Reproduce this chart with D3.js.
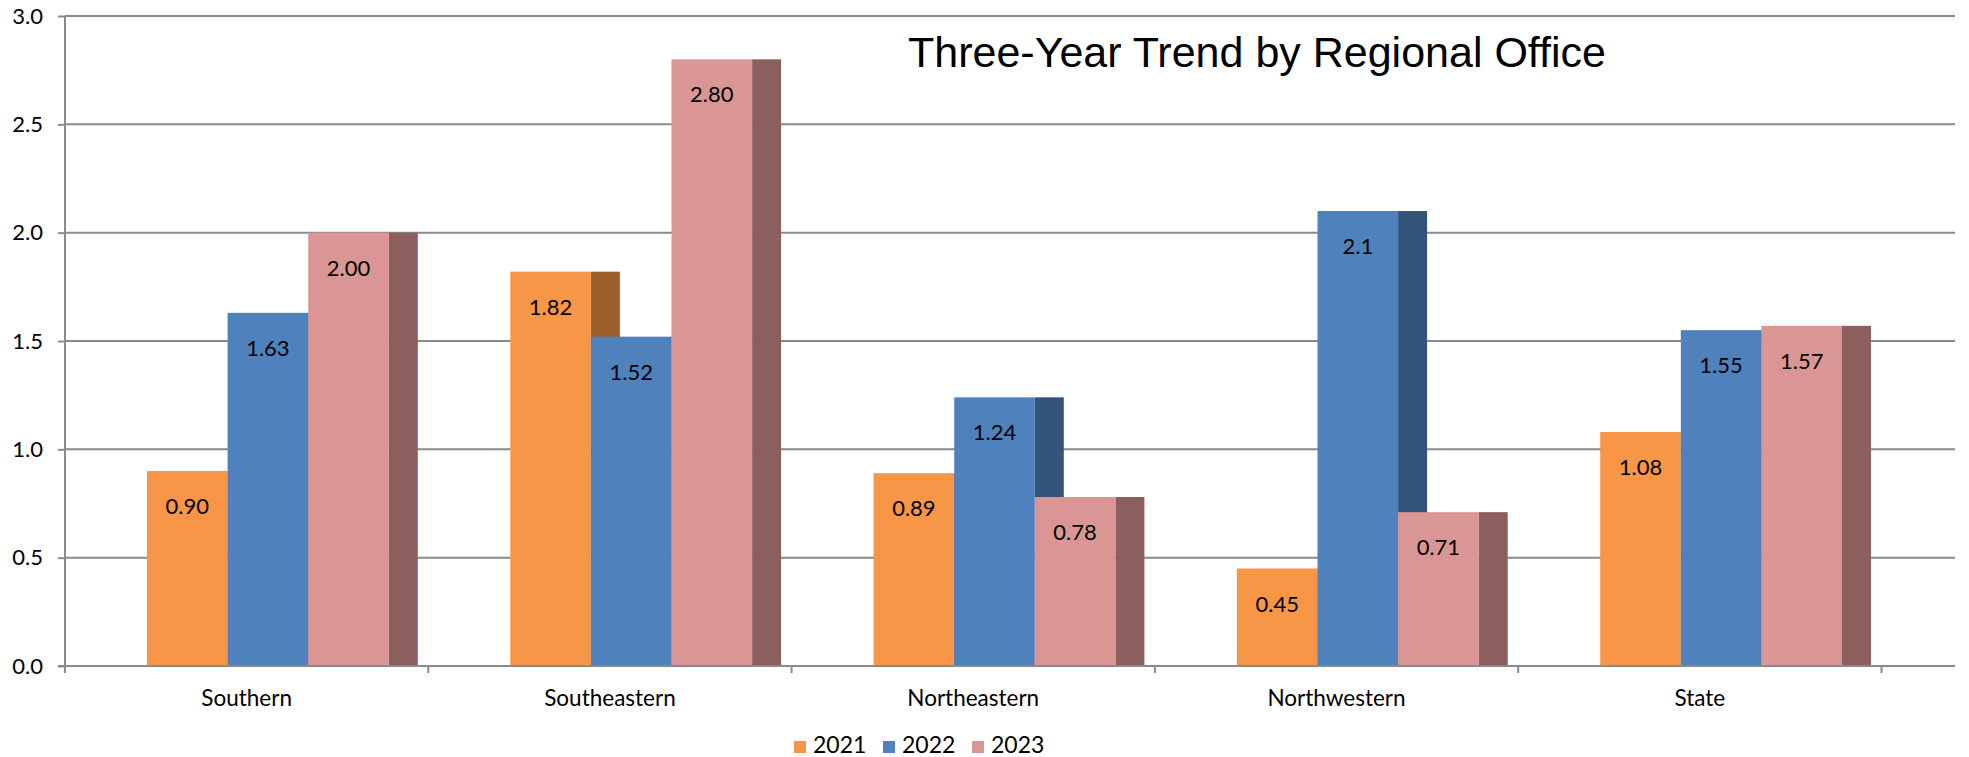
<!DOCTYPE html>
<html>
<head>
<meta charset="utf-8">
<script src="https://cdnjs.cloudflare.com/ajax/libs/d3/7.8.5/d3.min.js"></script>
<style>
    body { margin: 0; background: #fff; }
    svg { display: block; }
    .axis text { font-family: Lato, "Open Sans", sans-serif; font-size: 22px; fill: #000; }
</style>
</head>
<body>
<svg class="chart"></svg>
<script>
var width = 1969;
var height = 757;
var margin = {top: 16, right: 14, bottom: 91, left: 65};

// data
var regions = ["Southern", "Southeastern", "Northeastern", "Northwestern", "State"];
var years = ["2021", "2022", "2023"];
var values2021 = [0.90, 1.82, 0.89, 0.45, 1.08];
var values2022 = [1.63, 1.52, 1.24, 2.1, 1.55];
var values2023 = [2.00, 2.80, 0.78, 0.71, 1.57];
var labels2022 = ["1.63", "1.52", "1.24", "2.1", "1.55"]; // 2.1 is shown with one decimal
var yTicks = [0, 0.5, 1.0, 1.5, 2.0, 2.5, 3.0];

var series = [values2021, values2022, values2023];
var frontColors = ["#f79646", "#4f81bd", "#d99694"];
var sideColors = ["#9c5f2c", "#32537a", "#8c5f5e"]; // darker side face of each 3d column

var svg = d3.select(".chart")
    .attr("width", width)
    .attr("height", height);

var plotRight = width - margin.right; // gridlines run past the last category
var axisEnd = 1881.5; // last category ends here, the rest is depth room

var x = d3.scaleBand()
    .domain(regions)
    .range([margin.left, axisEnd])
    .paddingInner(0)
    .paddingOuter(0);

// position of each year inside a region
var xYear = d3.scaleBand()
    .domain(years)
    .range([82, 82 + 3 * 80.6]);

var y = d3.scaleLinear()
    .domain([0, 3])
    .range([height - margin.bottom, margin.top]);

var depth = 29;

// horizontal gridlines
svg.append("g")
    .selectAll("line")
    .data(yTicks.slice(1))
    .enter().append("line")
    .attr("x1", margin.left)
    .attr("x2", plotRight)
    .attr("y1", function(d) { return y(d); })
    .attr("y2", function(d) { return y(d); })
    .style("stroke", "#8a8a8a")
    .style("stroke-width", 2);

// y axis
var yAxis = d3.axisLeft(y)
    .tickValues(yTicks)
    .tickFormat(d3.format(".1f"))
    .tickSize(7)
    .tickPadding(15);

var gy = svg.append("g")
    .attr("class", "axis")
    .attr("transform", "translate(" + margin.left + ",0)")
    .call(yAxis);
gy.selectAll("line, path").style("stroke", "#8a8a8a").style("stroke-width", 2);
gy.select(".domain").attr("d", "M0," + y(3) + "V" + (y(0) + 7));

// bars, drawn region by region so the next column hides the side of the one before
var cells = [];
regions.forEach(function(r, i) {
    series.forEach(function(s, j) {
        cells.push({region: r, year: years[j], idx: j, value: s[i],
            label: j == 1 ? labels2022[i] : d3.format(".2f")(s[i])});
    });
});

var bars = svg.append("g");
cells.forEach(function(d) {
    var x0 = x(d.region) + xYear(d.year);
    var w = xYear.bandwidth();
    bars.append("rect")
        .attr("x", x0 + w)
        .attr("y", y(d.value))
        .attr("width", depth)
        .attr("height", y(0) - y(d.value))
        .style("fill", sideColors[d.idx]);
    bars.append("rect")
        .attr("x", x0)
        .attr("y", y(d.value))
        .attr("width", w)
        .attr("height", y(0) - y(d.value))
        .style("fill", frontColors[d.idx]);
});

// value labels inside the top of each column
svg.append("g")
    .selectAll("text")
    .data(cells)
    .enter().append("text")
    .attr("x", function(d) { return x(d.region) + xYear(d.year) + xYear.bandwidth() / 2; })
    .attr("y", function(d) { return y(d.value) + 43; })
    .style("text-anchor", "middle")
    .style("font-family", "Lato, 'Open Sans', sans-serif")
    .style("font-size", "22px")
    .style("fill", "#000")
    .text(function(d) { return d.label; });

// x axis
var xAxis = d3.axisBottom(x)
    .tickSize(0)
    .tickPadding(26);

var gx = svg.append("g")
    .attr("class", "axis")
    .attr("transform", "translate(0," + y(0) + ")")
    .call(xAxis);
gx.select(".domain").remove();
gx.selectAll("text").attr("dy", "0.6em").style("font-size", "22.5px");

gx.append("line")
    .attr("x1", margin.left - 7)
    .attr("x2", plotRight)
    .style("stroke", "#8a8a8a")
    .style("stroke-width", 2);

// tick marks sit between the regions
gx.selectAll(".divider")
    .data(regions.map(function(r) { return x(r) + x.bandwidth(); }))
    .enter().append("line")
    .attr("class", "divider")
    .attr("x1", function(d) { return d; })
    .attr("x2", function(d) { return d; })
    .attr("y1", 0)
    .attr("y2", 7)
    .style("stroke", "#8a8a8a")
    .style("stroke-width", 2);

// title
svg.append("text")
    .attr("x", 908)
    .attr("y", 67)
    .style("font-family", "'Liberation Sans', Arial, sans-serif")
    .style("font-size", "43px")
    .style("fill", "#000")
    .text("Three-Year Trend by Regional Office");

// legend
var legend = svg.append("g")
    .selectAll("g")
    .data(years)
    .enter().append("g")
    .attr("transform", function(d, i) { return "translate(" + (794 + i * 89) + ",741)"; });

legend.append("rect")
    .attr("width", 12)
    .attr("height", 12)
    .style("fill", function(d, i) { return frontColors[i]; });

legend.append("text")
    .attr("x", 19)
    .attr("y", 12)
    .style("font-family", "Lato, 'Open Sans', sans-serif")
    .style("font-size", "23px")
    .style("fill", "#000")
    .text(function(d) { return d; });
</script>
</body>
</html>
